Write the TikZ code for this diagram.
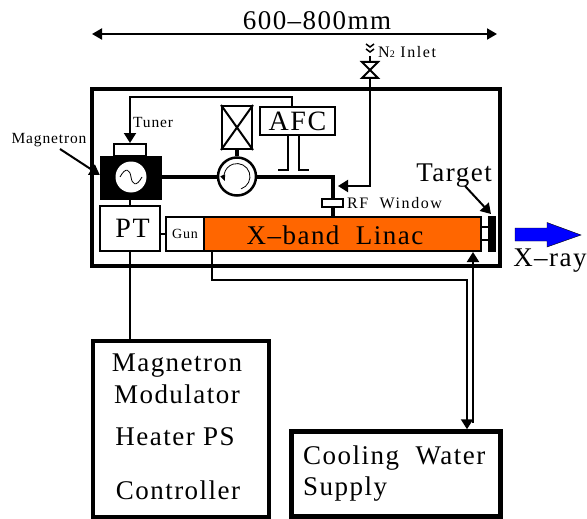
\documentclass[tikz,border=0pt]{standalone}
\usepackage{fontspec}
\setmainfont[LetterSpace=5.5]{Liberation Serif}
\usetikzlibrary{arrows.meta,positioning,calc}

\definecolor{linacorange}{RGB}{255,102,0}

\tikzset{
    box/.style = {draw, line width = 2pt, inner sep = 0pt},
    heavybox/.style = {draw, line width = 4.5pt, inner sep = 0pt},
    bigtext/.style = {font = \fontsize{27}{27}\selectfont, inner sep = 0pt},
    smalltext/.style = {font = \fontsize{15.5}{15}\selectfont, inner sep = 0pt},
    widetext/.style = {font = \fontsize{16}{15}\selectfont\addfontfeature{LetterSpace=10}, inner sep = 0pt},
    pipe/.style = {line width = 2pt},
    guide/.style = {line width = 4pt},
    tip/.style = {-{Triangle[length = 10pt, width = 12pt]}}
}

\begin{document}
\begin{tikzpicture}[
        x = 1pt,
        y = -1pt
        ]
    \useasboundingbox (0, 0) rectangle (587, 519);

    % outer frames
    \node[heavybox, minimum width = 408pt, minimum height = 177pt] (head) at (296, 177.5) {};
    \node[heavybox, minimum width = 176pt, minimum height = 176pt] (modulator) at (181, 429) {};
    \node[heavybox, minimum width = 209pt, minimum height = 85pt] (water) at (396, 474) {};

    % linac line
    \node[draw, line width = 1.5pt, fill = linacorange, minimum width = 277pt, minimum height = 34pt, inner sep = 0pt] (linac) at (342.5, 234) {};
    \node[bigtext] (linaclabel) at (335, 235) {X--band\ \ Linac};
    \node[box, line width = 1.5pt, minimum width = 38pt, minimum height = 34pt, font = \fontsize{14}{14}\selectfont] (gun) at (185, 234) {Gun};
    \node[box, minimum width = 60pt, minimum height = 45pt, font = \fontsize{28}{28}\selectfont] (pt) at (130, 228.5) {\hspace*{5pt}PT};
    \node[fill = black, minimum width = 8pt, minimum height = 36pt, inner sep = 0pt] (target) at (492, 234) {};

    % microwave parts
    \node[fill = black, minimum width = 62pt, minimum height = 44pt, inner sep = 0pt] (magnetron) at (131, 177.5) {};
    \node[circle, fill = white, minimum size = 31pt, inner sep = 0pt] (source) at (131, 177) {};
    \node[box, minimum width = 32pt, minimum height = 12pt] (tuner) at (130, 150) {};
    \node[circle, draw, line width = 2.5pt, minimum size = 38pt, inner sep = 0pt] (circulator) at (237, 176.5) {};
    \node[box, minimum width = 30pt, minimum height = 43pt] (load) at (237, 127.5) {};
    \node[box, line width = 1.5pt, minimum width = 75pt, minimum height = 28pt, font = \fontsize{28}{28}\selectfont] (afc) at (297.5, 121) {AFC};
    \node[box, line width = 1.5pt, fill = white, minimum width = 21pt, minimum height = 8pt] (window) at (332.5, 203) {};

    \coordinate (bend) at (332.5, 176.5);
    \coordinate (inlet) at (370, 56);
    \coordinate (valve) at (370, 70);
    \coordinate (coldelbow) at (467, 280);

    % waveguide
    \draw[guide] (magnetron.east |- circulator) -- (circulator.west);
    \draw[guide] (circulator.east) -- (bend) -- (window.north);
    \draw[guide] (window.south) -- (window |- linac.north);
    \draw[guide] (circulator.north) -- (load.south);

    % load cross
    \draw[pipe] (load.north west) -- (load.south east);
    \draw[pipe] (load.north east) -- (load.south west);

    % source symbol
    \draw[line width = 0.8pt] ($(source) + (-11, 0)$) .. controls ($(source) + (-5, -11)$) and ($(source) + (-1, -7)$) .. (source.center)
        .. controls ($(source) + (1, 7)$) and ($(source) + (5, 11)$) .. ($(source) + (11, 0)$);

    % circulator symbol
    \draw[line width = 0.8pt, -{Triangle[length = 6pt, width = 5pt]}] ($(circulator) + (4, 12.4)$) arc[start angle = 72, end angle = -200, radius = 13];

    % AFC stubs
    \draw[pipe] ($(afc.south) + (-9.5, 0)$) -- ++(0, 34) -- ++(-10, 0);
    \draw[pipe] ($(afc.south) + (1.5, 0)$) -- ++(0, 34) -- ++(10, 0);

    % tuner feedback
    \draw[pipe, tip] ($(afc.north) + (-5.5, 0)$) -- ++(0, -9) -| (tuner.north);

    % short links
    \draw[pipe] (magnetron.south -| pt.north) -- (pt.north);
    \draw[pipe] (pt.east |- gun) -- (gun.west);
    \draw[pipe] (linac.east |- 0, 227) -- (target.west |- 0, 227);
    \draw[pipe] (linac.east |- 0, 240) -- (target.west |- 0, 240);
    \draw[pipe] (pt.south) -- (pt.south |- modulator.north);

    % nitrogen feed
    \draw[pipe, tip] (valve) -- (valve |- 0, 186) -- (338, 186);
    \draw[pipe] (inlet) -- (valve);
    \draw[pipe, fill = white] (362, 62) -- (378, 62) -- (362, 78) -- (378, 78) -- cycle;
    \draw[line width = 1.5pt] (366, 44) -- (370, 47) -- (374, 44);
    \draw[line width = 1.5pt] (366, 49) -- (370, 52) -- (374, 49);
    \node[widetext, anchor = west] (inletlabel) at (378, 52) {N{\fontsize{10}{10}\selectfont 2} Inlet};

    % cooling water
    \draw[pipe, tip] ($(gun.south east) + (7, 0)$) |- (coldelbow) -- (coldelbow |- water.north);
    \draw[pipe, tip] (473, 423) -- (473, 252);

    % dimension
    \coordinate (dimleft) at (92, 34);
    \coordinate (dimright) at (497, 34);
    \draw[line width = 2pt, {Triangle[length = 10pt, width = 11pt]}-{Triangle[length = 10pt, width = 11pt]}] (dimleft) -- (dimright);
    \node[bigtext] (span) at (317, 21) {600--800mm};

    % labels
    \node[smalltext, anchor = west] (tunerlabel) at (133, 123) {Tuner};
    \node[smalltext] (magnetronlabel) at (49, 140) {Magnetron};
    \draw[pipe, tip] (60, 149) -- (magnetron.west |- 0, 175);
    \node[widetext, anchor = west] (windowlabel) at (347, 203) {RF\ \ Window};
    \node[bigtext] (targetlabel) at (454, 176) {Target};
    \draw[pipe, tip] (465, 186) -- (491, 214);

    % X-ray
    \draw[line width = 0.4pt, fill = blue] (515, 228) -- (547, 228) -- (547, 222.5) -- (581, 235) -- (547, 247) -- (547, 241) -- (515, 241) -- cycle;
    \node[bigtext] (xray) at (550, 261) {X--ray};

    % rack text
    \node[bigtext] (line1) at (177, 366) {Magnetron};
    \node[bigtext] (line2) at (177, 394) {Modulator};
    \node[bigtext] (line3) at (175, 437) {Heater PS};
    \node[bigtext] (line4) at (178, 490) {Controller};
    \node[bigtext, anchor = west] (line5) at (303, 458) {Cooling\ \ Water};
    \node[bigtext, anchor = west] (line6) at (303, 489) {Supply};
\end{tikzpicture}
\end{document}
